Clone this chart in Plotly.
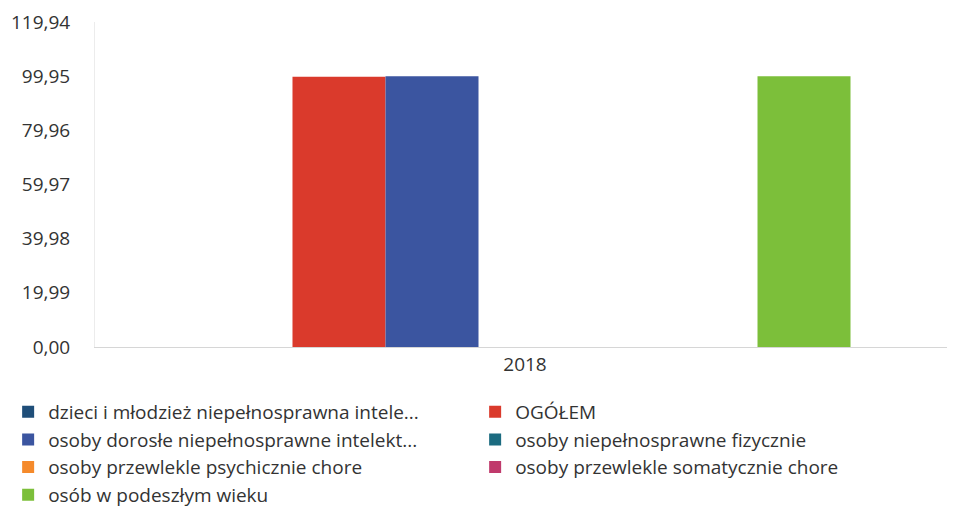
import plotly.graph_objects as go

categories = ["2018"]
series_names = [
    "dzieci i młodzież niepełnosprawna intele...",
    "OGÓŁEM",
    "osoby dorosłe niepełnosprawne intelekt...",
    "osoby niepełnosprawne fizycznie",
    "osoby przewlekle psychicznie chore",
    "osoby przewlekle somatycznie chore",
    "osób w podeszłym wieku",
]
series_values = [
    [0],
    [99.7],
    [99.95],
    [0],
    [0],
    [0],
    [99.95],
]
series_colors = ["#1f4e79", "#da3a2c", "#3b55a0", "#1b6b80", "#f58a2b", "#c03a6c", "#7cbf3a"]
y_ticks = [0, 19.99, 39.98, 59.97, 79.96, 99.95, 119.94]

fig = go.Figure()
for name, vals, col in zip(series_names, series_values, series_colors):
    fig.add_trace(go.Bar(x=categories, y=vals, name=name,
                         marker=dict(color=col, line=dict(width=0))))

# page body has an 8px margin, so the figure is 8px smaller than the window
fig.update_layout(
    width=947, height=512,
    barmode="group", bargap=0.243, bargroupgap=0,
    separators=",.",
    paper_bgcolor="white", plot_bgcolor="white",
    margin=dict(l=87, r=0, t=14, b=173, autoexpand=False),
    font=dict(family="Open Sans", size=19, color="#333333"),
    showlegend=True,
    legend=dict(orientation="h", xref="paper", yref="paper",
                x=-0.101, xanchor="left", y=-0.141, yanchor="top",
                entrywidth=422, font=dict(size=19, color="#333333"),
                traceorder="normal", itemwidth=30),
    xaxis=dict(showline=True, linecolor="#d6d6d6", linewidth=1, ticks="",
               showgrid=False, tickfont=dict(size=19)),
    yaxis=dict(range=[0, 119.94], tickvals=y_ticks, tickformat=".2f",
               showgrid=False, showline=True, linecolor="#ececec", zeroline=False,
               ticks="", ticklen=0, ticklabelstandoff=20, tickfont=dict(size=19)),
)
fig.write_html("out.html")
